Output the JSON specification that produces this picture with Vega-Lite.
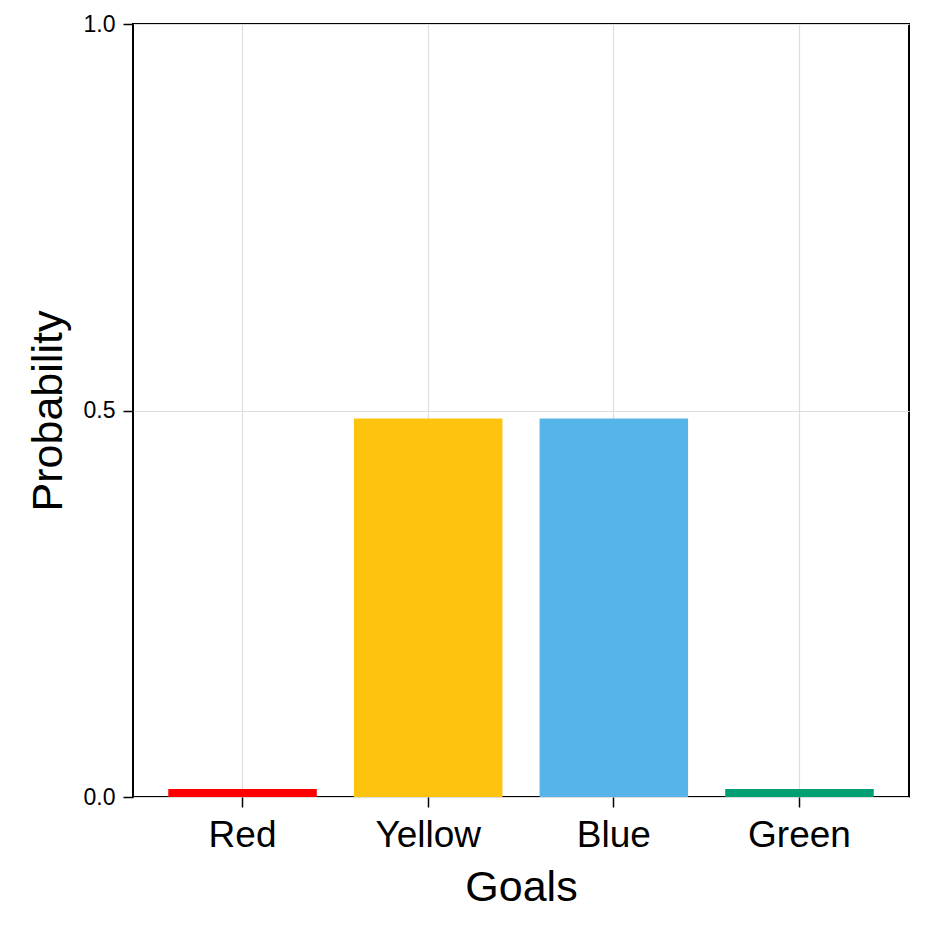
{
  "$schema": "https://vega.github.io/schema/vega-lite/v6.json",
  "width": 776,
  "height": 773,
  "autosize": "none",
  "padding": {"left": 133, "top": 24, "right": 25, "bottom": 137},
  "background": "white",
  "config": {
    "font": "Liberation Sans",
    "view": {"stroke": "#000000", "strokeWidth": 2},
    "axis": {
      "domain": false,
      "gridColor": "#dddddd",
      "gridWidth": 1.2,
      "tickColor": "#000000",
      "tickWidth": 1.5,
      "tickSize": 10,
      "labelColor": "#000000",
      "titleColor": "#000000",
      "labelFont": "Liberation Sans",
      "titleFont": "Liberation Sans",
      "titleFontWeight": "normal"
    }
  },
  "data": {
    "values": [
      {"goal": "Red", "p": 0.0103},
      {"goal": "Yellow", "p": 0.4897},
      {"goal": "Blue", "p": 0.4897},
      {"goal": "Green", "p": 0.0103}
    ]
  },
  "mark": {"type": "bar"},
  "encoding": {
    "x": {
      "field": "goal",
      "type": "nominal",
      "sort": ["Red", "Yellow", "Blue", "Green"],
      "scale": {"paddingInner": 0.2, "paddingOuter": 0.19},
      "axis": {
        "title": "Goals",
        "labelAngle": 0,
        "labelFontSize": 37,
        "labelPadding": 10,
        "titleFontSize": 43,
        "titlePadding": 13,
        "bandPosition": 0.5,
        "grid": true
      }
    },
    "y": {
      "field": "p",
      "type": "quantitative",
      "scale": {"domain": [0, 1], "nice": false},
      "axis": {
        "title": "Probability",
        "values": [0, 0.5, 1],
        "format": ".1f",
        "labelFontSize": 23,
        "labelPadding": 8,
        "titleFontSize": 43,
        "titlePadding": 13
      }
    },
    "color": {
      "field": "goal",
      "type": "nominal",
      "scale": {
        "domain": ["Red", "Yellow", "Blue", "Green"],
        "range": ["#ff0000", "#fdc30f", "#56b4e9", "#009e73"]
      },
      "legend": null
    }
  }
}
